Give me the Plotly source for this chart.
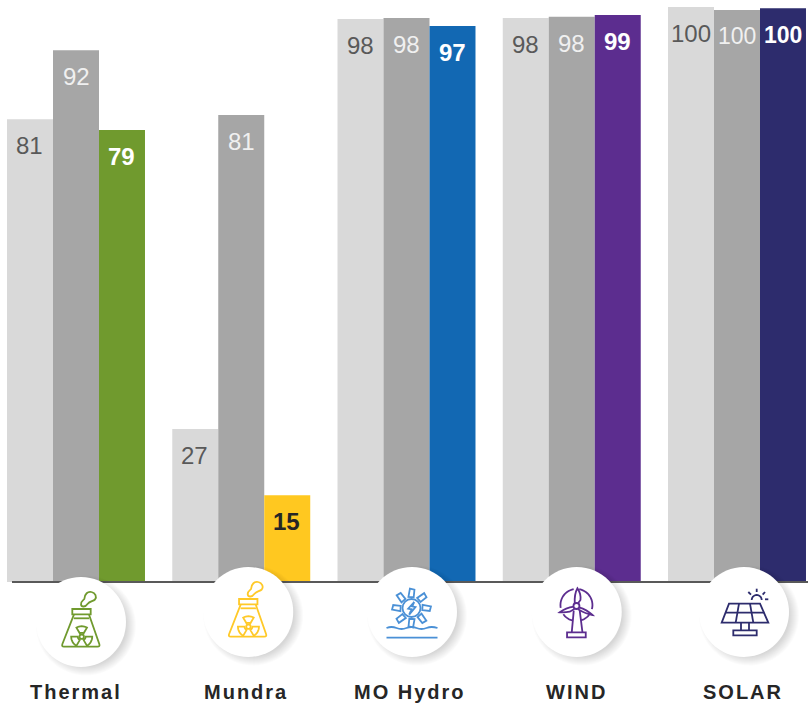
import json
import math
import plotly.graph_objects as go

# ---------- data ----------
categories = ["Thermal", "Mundra", "MO Hydro", "WIND", "SOLAR"]
series_a = [80.5, 26.6, 97.9, 98.1, 100.0]
series_b = [92.5, 81.2, 98.1, 98.3, 99.5]
series_c = [78.6, 15.1, 96.7, 98.6, 99.8]
labels_a = ["81", "27", "98", "98", "100"]
labels_b = ["92", "81", "98", "98", "100"]
labels_c = ["79", "15", "97", "99", "100"]
accent_colors = ["#709a2e", "#ffc820", "#1268b3", "#5c2d8f", "#2d2c6d"]
label_c_colors = ["#ffffff", "#262626", "#ffffff", "#ffffff", "#ffffff"]
icon_colors = ["#709a2e", "#ffc928", "#4a90d6", "#5c2d8f", "#2d2c6d"]

# ---------- layout constants ----------
W, H = 808, 704
BASE_PX = 582
PX_PER_UNIT = 5.75
LEFT = 7
LINE_START = 12
PITCH = 165.25
FIRST_CENTER = 76
BAR_W = 46
FONT = "Liberation Sans, Arial, sans-serif"
circle_dx = [5, 7, 5.5, 5, 7]
icon_dx = [8, 9.5, 6, 8, 9]
circle_dy = [40, 30, 30, 30, 30]
name_dx = [0, 5.5, 3.5, 5, 6]
CIRCLE_R = 45


# ---------- small path helpers (coordinates are px around the icon centre, y down) ----------
def P(x, y):
    return f"{x:.2f} {-y:.2f}"


def poly(pts, closed=False):
    s = "M" + " L".join(P(x, y) for x, y in pts)
    return s + (" Z" if closed else "")


def circ(cx, cy, r):
    k = 0.5523 * r
    return (
        f"M{P(cx + r, cy)} C{P(cx + r, cy + k)} {P(cx + k, cy + r)} {P(cx, cy + r)} "
        f"C{P(cx - k, cy + r)} {P(cx - r, cy + k)} {P(cx - r, cy)} "
        f"C{P(cx - r, cy - k)} {P(cx - k, cy - r)} {P(cx, cy - r)} "
        f"C{P(cx + k, cy - r)} {P(cx + r, cy - k)} {P(cx + r, cy)} Z"
    )


def arc(cx, cy, r, a0, a1, n=14):
    return [(cx + r * math.cos(math.radians(a0 + (a1 - a0) * i / n)),
             cy - r * math.sin(math.radians(a0 + (a1 - a0) * i / n))) for i in range(n + 1)]


def flask():
    d = [
        poly([(-11.7, -13), (6.7, -13), (6.7, -7.7), (-11.7, -7.7)], True),
        poly([(-10.2, -3.7), (5.2, -3.7)]),
        f"M{P(-10, -7.7)} L{P(-21.6, 22)} Q{P(-22.6, 24.7)} {P(-20, 24.7)} L{P(13.5, 24.7)} "
        f"Q{P(16.2, 24.7)} {P(15.3, 22)} L{P(4.9, -7.7)}",
        f"M{P(-3, -17.5)} C{P(-3.5, -20.5)} {P(-1, -21.5)} {P(0.3, -23)} C{P(0.5, -28)} {P(4, -31)} {P(7.5, -30)} "
        f"C{P(11.5, -29)} {P(13, -25)} {P(11, -22.5)} C{P(9, -20.5)} {P(6, -21)} {P(3.5, -18)} "
        f"C{P(1.5, -15)} {P(-2.5, -14.5)} {P(-3, -17.5)} Z",
        circ(-2.3, 14.7, 2.2),
    ]
    for a in (90, 210, 330):
        outer = arc(-2.3, 14.7, 10.5, a - 30, a + 30, 8)
        inner = arc(-2.3, 14.7, 3.9, a + 30, a - 30, 4)
        d.append(poly(outer + inner, True))
    return d


def hydro():
    cx, cy, d = -1, -4, []
    d.append(circ(cx, cy, 9))
    for i in range(8):
        a = math.radians(i * 45)

        def rp(r, off):
            return (cx + r * math.cos(a + off), cy - r * math.sin(a + off))
        d.append(poly([rp(11, -0.2), rp(18.5, -0.16), rp(19.5, 0.08), rp(11.5, 0.27)], True))
    d.append(poly([(cx + 2.7, cy - 6), (cx - 3.3, cy + 0.7), (cx, cy + 1.3), (cx - 2.3, cy + 6.7),
                   (cx + 4, cy - 1), (cx + 0.7, cy - 1.7)], True))
    d.append(f"M{P(-26, 16)} Q{P(-21, 14)} {P(-16, 16)} T{P(-6, 16)} T{P(4, 16)} T{P(14, 16)} T{P(25, 16)}")
    d.append(poly([(-26, 25.7), (25, 25.7)]))
    return d


def wind():
    hx, hy = -3.3, -6
    d = [
        poly(arc(hx, -7, 16, 100, 190)),
        poly(arc(hx, -7, 16, 215, 255)),
        poly(arc(hx, -7, 16, 285, 325)),
        poly(arc(hx, -7, 16, 345, 440)),
        circ(hx, hy, 3),
        f"M{P(-5, -8.7)} Q{P(-5.5, -18)} {P(-2.3, -23.7)} Q{P(1.5, -18)} {P(0.7, -12)} L{P(-1.7, -8.7)}",
        f"M{P(-6, -5.3)} Q{P(-14, -4)} {P(-20, 0.3)} Q{P(-15, 0.7)} {P(-10, -0.3)} L{P(-5.3, -3)}",
        f"M{P(-0.7, -4.7)} Q{P(7, -2.5)} {P(12.7, 3)} Q{P(6, 2)} {P(-1.7, -2.7)}",
        poly([(-6, -1.3), (-8, 20.3)]),
        poly([(0, -1.3), (2.7, 20.3)]),
        poly([(-12.7, 20.3), (6, 20.3), (6, 25.3), (-12.7, 25.3)], True),
    ]
    return d


def solar():
    d = [
        poly([(-17, -8.3), (14, -8.3), (22.3, 10.7), (-24.3, 10.7)], True),
        poly([(-20.8, 0.7), (18.3, 0.7)]),
        poly([(-7, -8.3), (-10.3, 10.7)]),
        poly([(4, -8.3), (7.3, 10.7)]),
        poly([(-5, 10.7), (-5, 18.3)]),
        poly([(3, 10.7), (3, 18.3)]),
        poly([(-12.7, 18.3), (10.7, 18.3), (10.7, 23.3), (-12.7, 23.3)], True),
        poly(arc(10.7, -12, 5, 0, 180)),
        poly([(2.3, -20), (5, -17.3)]),
        poly([(10.7, -23.3), (10.7, -20)]),
        poly([(19, -20), (16.7, -17.3)]),
        poly([(19, -12.7), (22.3, -12.7)]),
    ]
    return d


icon_paths = [flask(), flask(), hydro(), wind(), solar()]


def move(path, dx, dy):
    """Shift a path written around the icon centre to offsets from the category anchor."""
    out, is_x = [], True
    for tok in path.replace(",", " ").split():
        cmd = ""
        if tok[0].isalpha():
            cmd, tok = tok[0], tok[1:]
            is_x = True
        if not tok:
            out.append(cmd)
            continue
        v = float(tok) + (dx if is_x else -dy)
        out.append(f"{cmd}{v:.2f}")
        is_x = not is_x
    return " ".join(out)


# ---------- figure ----------
fig = go.Figure()
for vals, color in ((series_a, "#d9d9d9"), (series_b, "#a6a6a6"), (series_c, accent_colors)):
    fig.add_bar(x=categories, y=vals, marker=dict(color=color, line=dict(width=0)),
                showlegend=False, hoverinfo="x+y")

plot_w = W - LEFT
shapes = [dict(type="line", xref="paper", yref="y", x0=(LINE_START - LEFT) / plot_w, x1=1, y0=0, y1=0,
               line=dict(color="#595959", width=2), layer="above")]
annotations = []
for i, cat in enumerate(categories):
    anchor = dict(xref="x", yref="y", xsizemode="pixel", ysizemode="pixel",
                  xanchor=cat, yanchor=0, layer="above")
    dx, dy = circle_dx[i], circle_dy[i]
    # soft shadow, falling to the lower right
    for k in range(10):
        shapes.append(dict(type="path", path=move(circ(5, 3.5, CIRCLE_R + 5 - k), dx, dy),
                           fillcolor="rgba(0,0,0,0.015)", line=dict(width=0), **anchor))
    shapes.append(dict(type="path", path=move(circ(0, 0, CIRCLE_R), dx, dy),
                       fillcolor="#ffffff", line=dict(width=0), **anchor))
    for d in icon_paths[i]:
        shapes.append(dict(type="path", path=move(d, icon_dx[i], dy), fillcolor="rgba(0,0,0,0)",
                           line=dict(color=icon_colors[i], width=1.8), **anchor))
    # value labels
    for vals, labs, xs, col, size, bold in (
        (series_a, labels_a, -BAR_W - 0.5, "#595959", 24, False),
        (series_b, labels_b, 0, "#f0f0f0", 23 if labels_b[i] == "100" else 24, False),
        (series_c, labels_c, BAR_W - 0.5, label_c_colors[i], 23 if labels_c[i] == "100" else 24, True),
    ):
        txt = f"<b>{labs[i]}</b>" if bold else labs[i]
        annotations.append(dict(x=cat, y=vals[i], xref="x", yref="y", text=txt, showarrow=False,
                                xshift=xs, yshift=-26.5, yanchor="middle", xanchor="center",
                                font=dict(family=FONT, size=size, color=col)))
    annotations.append(dict(x=cat, y=0, xref="x", yref="y", text=f"<b>{cat}</b>", showarrow=False,
                            xshift=name_dx[i], yshift=-110, yanchor="middle", xanchor="center",
                            font=dict(family=FONT, size=20, color="#262626")))

fig.update_layout(
    width=W, height=H,
    margin=dict(l=LEFT, r=0, t=0, b=0, pad=0),
    paper_bgcolor="#ffffff", plot_bgcolor="#ffffff",
    barmode="group", bargap=0.165, bargroupgap=0,
    shapes=shapes, annotations=annotations, showlegend=False,
    xaxis=dict(type="category", categoryorder="array", categoryarray=categories,
               range=[-(FIRST_CENTER - LEFT) / PITCH, (W - FIRST_CENTER) / PITCH],
               showticklabels=False, ticks="", showgrid=False, showline=False, zeroline=False,
               fixedrange=True),
    yaxis=dict(range=[-(H - BASE_PX) / PX_PER_UNIT, BASE_PX / PX_PER_UNIT],
               showticklabels=False, ticks="", showgrid=False, showline=False,
               zeroline=False, fixedrange=True),
)

post = """
document.body.style.margin='0';
var names=%s;
document.querySelectorAll('.annotation-text').forEach(function(t){
  if(names.indexOf(t.textContent)>=0){t.style.letterSpacing='2px';}
});
""" % json.dumps(categories)
fig.write_html("out.html", config={"displayModeBar": False}, post_script=post)
